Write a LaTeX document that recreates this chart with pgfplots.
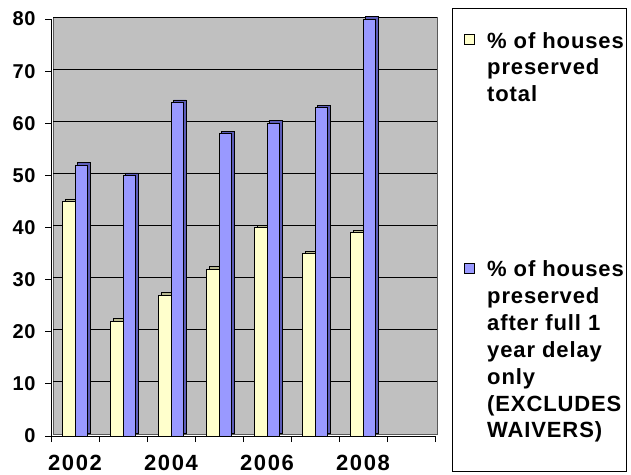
\documentclass[border=0pt]{standalone}
\usepackage{fontspec}
\setmainfont{Liberation Sans}
\newfontfamily\ticksx[LetterSpace=7]{Liberation Sans}
\newfontfamily\ticksy[LetterSpace=3]{Liberation Sans}
\newfontfamily\legfont[LetterSpace=4]{Liberation Sans}
\usepackage{pgfplots}
\pgfplotsset{compat=1.18}

\definecolor{wall}{HTML}{C0C0C0}
\definecolor{totfill}{HTML}{FFFFCC}
\definecolor{totside}{HTML}{B8B890}
\definecolor{delfill}{HTML}{9999FF}
\definecolor{delside}{HTML}{5C5CB8}

% x = slot centre (0.5 = 2002), percentages of houses preserved
\pgfplotstableread{
x total delay
0.5 45 52
1.5 22 50
2.5 27 64
3.5 32 58
4.5 40 60
5.5 35 63
6.5 39 80
}\preserved

\begin{document}
\begin{tikzpicture}[x=1pt,y=1pt]
\useasboundingbox (0pt,0pt) rectangle (631pt,474pt);
\begin{axis}[
  at={(51pt,38pt)}, anchor=origin,
  scale only axis, width=384pt, height=417pt,
  xmin=0, xmax=8, ymin=0, ymax=80,
  axis x line*=bottom, axis y line*=left,
  axis line style={black, line width=1pt},
  tick align=outside, major tick length=6pt,
  tick style={black, line width=1pt},
  ytick={0,10,...,80},
  xtick={0,1,...,8}, xticklabels={},
  extra x ticks={0.5,2.5,4.5,6.5},
  extra x tick labels={2002,2004,2006,2008},
  extra x tick style={major tick length=0pt,
    xticklabel style={font=\ticksx\bfseries\fontsize{22}{24}\selectfont, yshift=-16pt}},
  yticklabel style={font=\ticksy\bfseries\fontsize{20}{24}\selectfont, xshift=-6pt},
  /pgf/number format/assume math mode=true,
  clip=false,
]
% back wall and its grid, set slightly behind the bars
\fill[wall, draw=gray!70!black, line width=0.6pt]
  ([xshift=2pt,yshift=2pt]rel axis cs:0,0) rectangle ([xshift=2pt,yshift=2pt]rel axis cs:1,1);
\pgfplotsinvokeforeach{10,20,...,80}{
  \draw[black, line width=1pt] ([xshift=2pt,yshift=2pt]axis cs:0,#1) -- ([xshift=2pt,yshift=2pt]axis cs:8,#1);
}
% depth faces, then front faces
\addplot[ybar, bar width=12.5pt, bar shift=-6.25pt, fill=totside, draw=black, line width=0.7pt,
  xshift=2.5pt, yshift=2.5pt] table[x=x, y=total] {\preserved};
\addplot[ybar, bar width=12.5pt, bar shift=-6.25pt, fill=totfill, draw=black, line width=0.7pt]
  table[x=x, y=total] {\preserved};
\addplot[ybar, bar width=12.5pt, bar shift=6.25pt, fill=delside, draw=black, line width=0.7pt,
  xshift=2.5pt, yshift=2.5pt] table[x=x, y=delay] {\preserved};
\addplot[ybar, bar width=12.5pt, bar shift=6.25pt, fill=delfill, draw=black, line width=0.7pt]
  table[x=x, y=delay] {\preserved};
\end{axis}

% legend
\draw[black, line width=1pt] (452pt,3pt) rectangle (626pt,465pt);
\draw[black, line width=0.9pt, fill=totfill] (464pt,430pt) rectangle (474pt,440pt);
\draw[black, line width=0.9pt, fill=delfill] (464pt,201pt) rectangle (474pt,211pt);
\foreach \yy/\tt in {425.7/{\% of houses}, 399/{preserved}, 372.3/{total},
    197/{\% of houses}, 170.2/{preserved}, 143.4/{after full 1}, 116.6/{year delay},
    89.8/{only}, 63/{(EXCLUDES}, 36.2/{WAIVERS)}}{
  \node[anchor=base west, inner sep=0pt, font=\legfont\bfseries\fontsize{22}{25}\selectfont]
    at (487pt,\yy pt) {\tt};
}
\end{tikzpicture}
\end{document}
